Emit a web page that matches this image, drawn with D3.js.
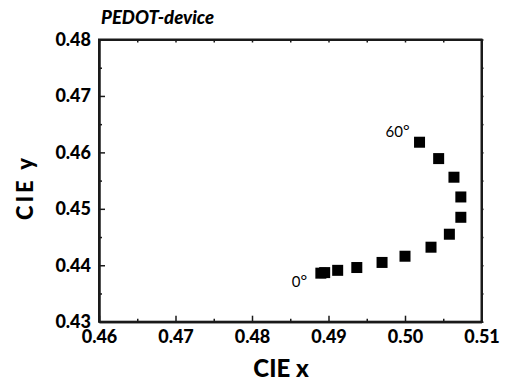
<!DOCTYPE html>
<html>
<head>
<meta charset="utf-8">
<script src="https://cdn.jsdelivr.net/npm/d3@7"></script>
<style>
  html, body { margin: 0; padding: 0; background: #fff; }
  svg { display: block; font-family: Lato, "Open Sans", sans-serif; }
</style>
</head>
<body>
<svg id="chart" width="509" height="387"></svg>
<script>
// Data
const cieX = [0.4890, 0.4895, 0.4912, 0.4937, 0.4970, 0.5000, 0.5034, 0.5058, 0.5073, 0.5073, 0.5064, 0.5044, 0.5019];
const cieY = [0.4386, 0.4387, 0.4391, 0.4396, 0.4405, 0.4416, 0.4432, 0.4455, 0.4485, 0.4521, 0.4556, 0.4589, 0.4618];
const xTicks = [0.46, 0.47, 0.48, 0.49, 0.50, 0.51];
const yTicks = [0.43, 0.44, 0.45, 0.46, 0.47, 0.48];
const xMinor = [0.465, 0.475, 0.485, 0.495, 0.505];
const yMinor = [0.435, 0.445, 0.455, 0.465, 0.475];
const angleLabels = [{ text: "0", index: 0 }, { text: "60", index: 12 }];
const titleText = "PEDOT-device";
const xTitle = "CIE x";
const yTitle = "CIE y";

const svg = d3.select("#chart");
const L = 99, R = 481.5, T = 39.5, B = 321.7;

const x = d3.scaleLinear().domain([0.46, 0.51]).range([L, R]);
const y = d3.scaleLinear().domain([0.43, 0.48]).range([B, T]);

const axisColor = "#1a1a1a";

// Bottom axis
svg.append("g").attr("transform", `translate(0,${B})`)
  .call(d3.axisBottom(x).tickValues(xTicks).tickFormat(d3.format(".2f")).tickSizeInner(-6).tickSizeOuter(0).tickPadding(9));
// Left axis
svg.append("g").attr("transform", `translate(${L},0)`)
  .call(d3.axisLeft(y).tickValues(yTicks).tickFormat(d3.format(".2f")).tickSizeInner(-6).tickSizeOuter(0).tickPadding(8));
// Minor ticks bottom/left
svg.append("g").attr("transform", `translate(0,${B})`)
  .call(d3.axisBottom(x).tickValues(xMinor).tickFormat("").tickSizeInner(-3).tickSizeOuter(0));
svg.append("g").attr("transform", `translate(${L},0)`)
  .call(d3.axisLeft(y).tickValues(yMinor).tickFormat("").tickSizeInner(-3).tickSizeOuter(0));
// Top and right mirror axes
svg.append("g").attr("transform", `translate(0,${T})`)
  .call(d3.axisTop(x).tickValues(xTicks.concat(xMinor)).tickFormat("").tickSizeInner(-3).tickSizeOuter(0));
svg.append("g").attr("transform", `translate(${R},0)`)
  .call(d3.axisRight(y).tickValues(yTicks.concat(yMinor)).tickFormat("").tickSizeInner(2).tickSizeOuter(0));

svg.selectAll(".domain").attr("stroke", axisColor).attr("stroke-width", 2);
svg.selectAll(".tick line").attr("stroke", axisColor).attr("stroke-width", 1.5);
svg.selectAll(".tick text")
  .attr("fill", "#000")
  .style("font-family", "Lato, sans-serif")
  .style("font-weight", "900")
  .style("font-size", "18px");

// Frame
svg.append("rect").attr("x", L).attr("y", T).attr("width", R - L).attr("height", B - T)
  .attr("fill", "none").attr("stroke", axisColor).attr("stroke-width", 2);

// Markers
const ms = 11;
svg.append("g").selectAll("rect.pt")
  .data(cieX.map((d, i) => ({ x: d, y: cieY[i] })))
  .join("rect")
  .attr("class", "pt")
  .attr("x", d => x(d.x) - ms / 2)
  .attr("y", d => y(d.y) - ms / 2)
  .attr("width", ms).attr("height", ms)
  .attr("fill", "#000");

// Angle labels
const lblOffsets = { "0": [-29, 13.5], "60": [-34, -5.5] };
angleLabels.forEach(a => {
  const px = x(cieX[a.index]), py = y(cieY[a.index]);
  const off = lblOffsets[a.text];
  const t = svg.append("text")
    .attr("x", px + off[0]).attr("y", py + off[1])
    .style("font-size", "15px").attr("fill", "#000");
  t.append("tspan").text(a.text);
  t.append("tspan").text("°").style("font-size", "16px").attr("dy", -1);
});

// Title
svg.append("text").attr("x", 101).attr("y", 24)
  .style("font-size", "18.5px").style("font-weight", "900").style("font-style", "italic")
  .text(titleText);

// Axis titles
svg.append("text").attr("x", 281).attr("y", 377)
  .attr("text-anchor", "middle")
  .style("font-size", "24px").style("font-weight", "900")
  .text(xTitle);
svg.append("text")
  .attr("transform", `translate(33,189) rotate(-90)`)
  .attr("text-anchor", "middle")
  .attr("textLength", 62).attr("lengthAdjust", "spacing")
  .style("font-size", "22px").style("font-weight", "900")
  .text(yTitle);
</script>
</body>
</html>
